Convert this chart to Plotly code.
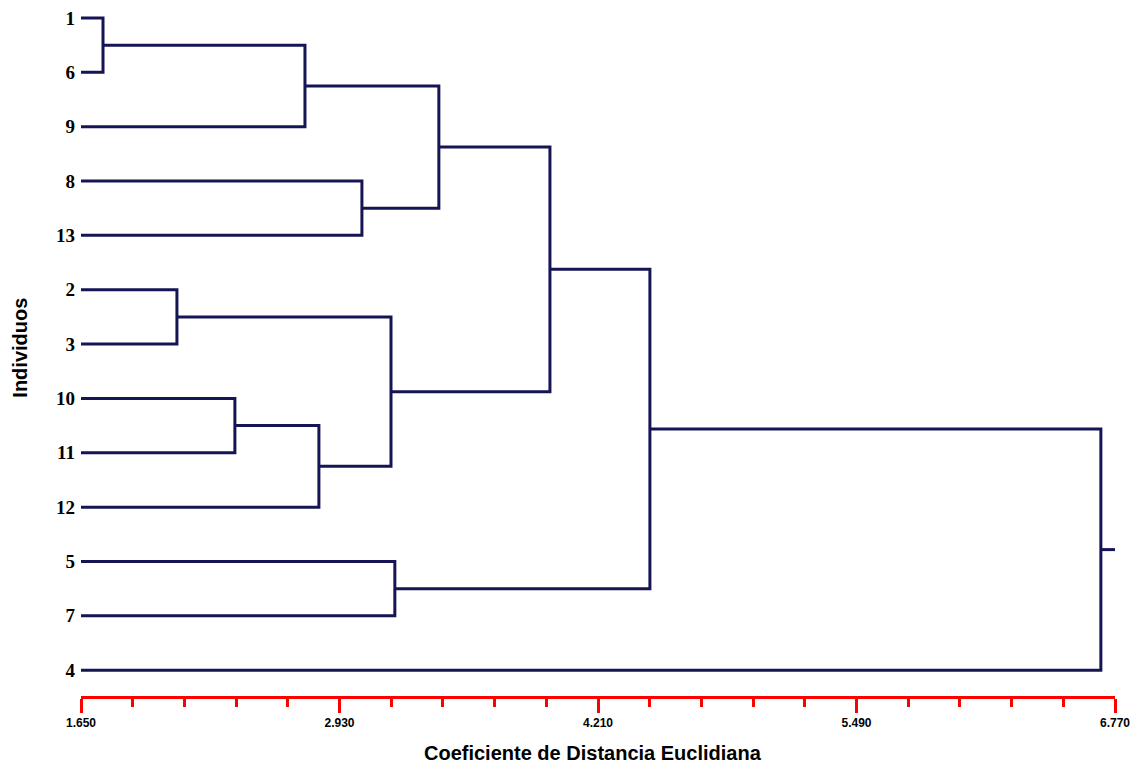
import plotly.graph_objects as go

# Leaf labels in dendrogram order (top to bottom)
leaves = ["1", "6", "9", "8", "13", "2", "3", "10", "11", "12", "5", "7", "4"]

# Merges: (child_a, child_b, distance); ids 0..12 are leaves, new clusters get 13, 14, ...
merge_a = [0, 13, 3, 14, 5, 7, 18, 17, 16, 10, 21, 23]
merge_b = [1, 2, 4, 15, 6, 8, 9, 19, 20, 11, 22, 12]
merge_h = [1.759, 2.759, 3.041, 3.422, 2.125, 2.412, 2.828, 3.185, 3.972, 3.204, 4.467, 6.700]

x_min, x_max = 1.650, 6.770
major_ticks = [1.650, 2.930, 4.210, 5.490, 6.770]

# Build the dendrogram path
pos_y = {i: float(i) for i in range(len(leaves))}
pos_x = {i: x_min for i in range(len(leaves))}
xs, ys = [], []
for k, (a, b, h) in enumerate(zip(merge_a, merge_b, merge_h)):
    cid = len(leaves) + k
    xs += [pos_x[a], h, h, pos_x[b], None]
    ys += [pos_y[a], pos_y[a], pos_y[b], pos_y[b], None]
    pos_y[cid] = (pos_y[a] + pos_y[b]) / 2
    pos_x[cid] = h
root = len(leaves) + len(merge_h) - 1
xs += [pos_x[root], x_max]
ys += [pos_y[root], pos_y[root]]

line_color = "#151555"

fig = go.Figure()
fig.add_trace(go.Scatter(x=xs, y=ys, mode="lines",
                         line=dict(color=line_color, width=3),
                         hoverinfo="skip", showlegend=False))

fig.update_layout(
    width=1123, height=755,
    margin=dict(l=73, r=16, t=0, b=67),
    paper_bgcolor="white", plot_bgcolor="white",
    xaxis=dict(
        range=[x_min, x_max], showgrid=False, zeroline=False,
        showline=True, linecolor="#ff0000", linewidth=3,
        tickmode="array", tickvals=major_ticks,
        ticktext=[f"{v:.3f}" for v in major_ticks],
        ticks="outside", ticklen=14, tickwidth=3, tickcolor="#ff0000",
        ticklabeloverflow="allow",
        tickfont=dict(family="Liberation Sans Narrow, Arial Narrow, sans-serif", size=12,
                      color="black", weight="bold"),
        minor=dict(tickmode="linear", tick0=x_min, dtick=0.256, ticks="outside",
                   ticklen=8, tickwidth=3, tickcolor="#ff0000", showgrid=False),
        fixedrange=True,
    ),
    yaxis=dict(
        range=[12 + 26 / 54.75, -5 / 54.75], showgrid=False, zeroline=False,
        showline=False, tickmode="array", tickvals=list(range(len(leaves))),
        ticktext=leaves, ticks="", ticklabelstandoff=5,
        ticklabeloverflow="allow",
        tickfont=dict(family="Liberation Serif, Times New Roman, serif", size=19, color="black", weight="bold"),
        fixedrange=True,
    ),
    annotations=[
        dict(text="<b>Coeficiente de Distancia Euclidiana</b>", xref="paper", yref="paper",
             x=0.495, y=0, yshift=-57, xanchor="center", yanchor="middle", showarrow=False,
             font=dict(family="Liberation Sans, Arial, sans-serif", size=20, color="black")),
        dict(text="<b>Individuos</b>", xref="paper", yref="paper",
             x=0, xshift=-61, y=0.51, xanchor="center", yanchor="middle", showarrow=False,
             textangle=-90,
             font=dict(family="Liberation Sans, Arial, sans-serif", size=20, color="black")),
    ],
)

fig.write_html("out.html")
